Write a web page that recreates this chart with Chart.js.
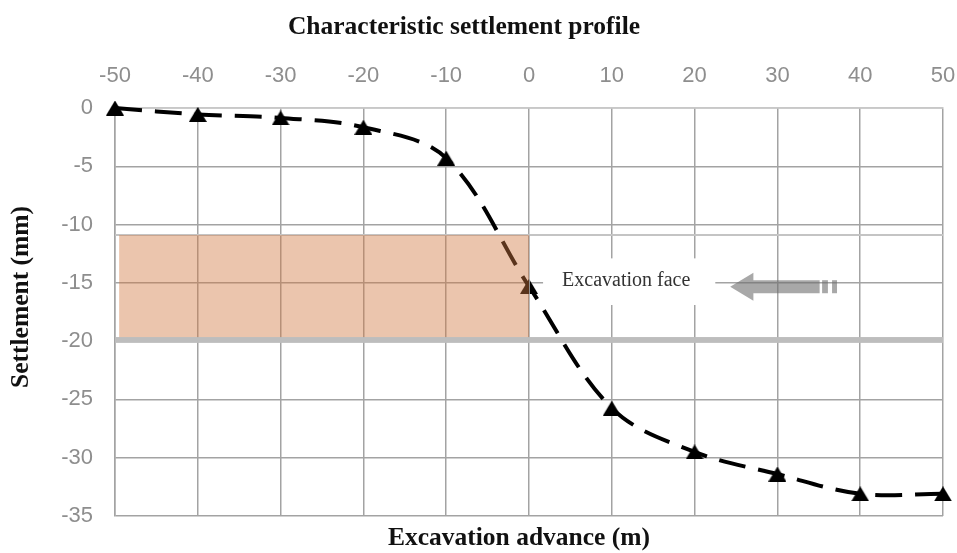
<!DOCTYPE html>
<html>
<head>
<meta charset="utf-8">
<script src="https://cdn.jsdelivr.net/npm/chart.js@4.4.1/dist/chart.umd.min.js"></script>
<style>
html,body{margin:0;padding:0;background:#fff;}
#wrap{width:957px;height:553px;position:relative;}
</style>
</head>
<body>
<div id="wrap"><canvas id="c" width="957" height="553"></canvas></div>
<script>
// ---- data ----
const advance = [-50, -40, -30, -20, -10, 0, 10, 20, 30, 40, 50];
const settlement = [0, -0.55, -0.85, -1.65, -4.3, -15.3, -25.75, -29.5, -31.4, -33.1, -33.1];
const xTicks = [-50, -40, -30, -20, -10, 0, 10, 20, 30, 40, 50];
const yTicks = [0, -5, -10, -15, -20, -25, -30, -35];
const tunnelX = [-49.5, 0];
const tunnelY = [-10.9, -19.65];
const titleText = 'Characteristic settlement profile';
const xTitle = 'Excavation advance (m)';
const yTitle = 'Settlement (mm)';
const faceText = 'Excavation face';

// ---- annotation geometry (data units) ----
const patch = {x0: 1.7, x1: 22.5, y0: -12.9, y1: -16.9};
const arrow = {tip: 24.3, headBack: 27.1, shaftEnd: 35.1, y: -15.33, headHalf: 1.2, shaftHalf: 0.56,
               bars: [[35.4, 36.1], [36.6, 37.2]]};
const facePos = {x: 4.0, y: -14.8};

function triangleImg(w, h) {
  const c = document.createElement('canvas');
  c.width = w; c.height = h;
  const g = c.getContext('2d');
  g.fillStyle = '#000';
  g.beginPath();
  g.moveTo(w / 2, 0);
  g.lineTo(w, h);
  g.lineTo(0, h);
  g.closePath();
  g.fill();
  return c;
}
const tri = triangleImg(18, 15);

const GRID = '#a3a3a3';
const TICK = '#8e8e8e';
const serifBold = 'bold 25.5px "Liberation Serif", "Times New Roman", serif';

const decor = {
  id: 'decor',
  beforeDatasetsDraw(chart) {
    const {ctx, scales: {x, y}, chartArea: a} = chart;
    ctx.save();
    ctx.strokeStyle = '#c4c4c4';
    ctx.lineWidth = 2;
    ctx.beginPath();
    ctx.moveTo(a.left, y.getPixelForValue(tunnelY[0]));
    ctx.lineTo(a.right, y.getPixelForValue(tunnelY[0]));
    ctx.stroke();
    ctx.fillStyle = '#bdbdbd';
    const b0 = y.getPixelForValue(tunnelY[1]);
    const b1 = y.getPixelForValue(-20.15);
    ctx.fillRect(a.left, b0, a.right - a.left, b1 - b0);
    ctx.fillStyle = '#fff';
    const px0 = x.getPixelForValue(patch.x0), px1 = x.getPixelForValue(patch.x1);
    const py0 = y.getPixelForValue(patch.y0), py1 = y.getPixelForValue(patch.y1);
    ctx.fillRect(px0, py0, px1 - px0, py1 - py0);
    ctx.fillStyle = '#333';
    ctx.font = '20px "Liberation Serif", "Times New Roman", serif';
    ctx.textAlign = 'left';
    ctx.textBaseline = 'middle';
    ctx.fillText(faceText, x.getPixelForValue(facePos.x), y.getPixelForValue(facePos.y));
    ctx.fillStyle = 'rgba(110,110,110,0.6)';
    const ay = y.getPixelForValue(arrow.y);
    const hh = y.getPixelForValue(arrow.y - arrow.headHalf) - ay;
    const sh = y.getPixelForValue(arrow.y - arrow.shaftHalf) - ay;
    const tip = x.getPixelForValue(arrow.tip), hb = x.getPixelForValue(arrow.headBack), se = x.getPixelForValue(arrow.shaftEnd);
    ctx.beginPath();
    ctx.moveTo(tip, ay);
    ctx.lineTo(hb, ay - hh);
    ctx.lineTo(hb, ay - sh);
    ctx.lineTo(se, ay - sh);
    ctx.lineTo(se, ay + sh);
    ctx.lineTo(hb, ay + sh);
    ctx.lineTo(hb, ay + hh);
    ctx.closePath();
    ctx.fill();
    arrow.bars.forEach(([b0v, b1v]) => {
      const bx0 = x.getPixelForValue(b0v), bx1 = x.getPixelForValue(b1v);
      ctx.fillRect(bx0, ay - sh, bx1 - bx0, 2 * sh);
    });
    ctx.restore();
  },
  afterDatasetsDraw(chart) {
    const {ctx, scales: {x, y}} = chart;
    ctx.save();
    ctx.fillStyle = 'rgba(209,120,64,0.43)';
    const x0 = x.getPixelForValue(tunnelX[0]), x1 = x.getPixelForValue(tunnelX[1]);
    const y0 = y.getPixelForValue(tunnelY[0]), y1 = y.getPixelForValue(tunnelY[1]);
    ctx.fillRect(x0, y0, x1 - x0, y1 - y0);
    ctx.strokeStyle = 'rgba(180,180,180,0.8)';
    ctx.lineWidth = 1;
    ctx.beginPath();
    ctx.moveTo(x1 + 0.5, y0);
    ctx.lineTo(x1 + 0.5, y1);
    ctx.stroke();
    ctx.restore();
  },
  afterDraw(chart) {
    const {ctx} = chart;
    ctx.save();
    ctx.fillStyle = '#111';
    ctx.font = serifBold;
    ctx.textAlign = 'center';
    ctx.textBaseline = 'middle';
    ctx.fillText(titleText, 464, 27);
    ctx.fillText(xTitle, 519, 538);
    ctx.translate(21, 297);
    ctx.rotate(-Math.PI / 2);
    ctx.fillText(yTitle, 0, 0);
    ctx.restore();
  }
};

const noPad = s => { s.paddingLeft = 0; s.paddingRight = 0; };

new Chart(document.getElementById('c'), {
  type: 'line',
  data: {
    datasets: [{
      data: advance.map((v, i) => ({x: v, y: settlement[i]})),
      borderColor: '#000',
      borderWidth: 4,
      borderDash: [27, 13],
      tension: 0.35,
      pointStyle: tri,
      pointRadius: 9,
      pointBackgroundColor: '#000',
      fill: false,
      clip: false
    }]
  },
  options: {
    responsive: false,
    animation: false,
    devicePixelRatio: 1,
    layout: {padding: {left: 0, right: 14, top: 0, bottom: 0}},
    plugins: {legend: {display: false}, title: {display: false}, tooltip: {enabled: false}},
    scales: {
      x: {
        type: 'linear', position: 'top', min: -50, max: 50,
        afterBuildTicks: s => { s.ticks = xTicks.map(v => ({value: v})); },
        afterFit: s => { s.height = 108; noPad(s); },
        ticks: {color: TICK, font: {family: '"Liberation Sans", Arial, sans-serif', size: 22}, padding: 19, maxRotation: 0},
        grid: {color: GRID, lineWidth: 1.5, drawTicks: false},
        border: {display: true, color: '#c8c8c8', width: 1.5}
      },
      x2: {
        type: 'linear', position: 'bottom', min: -50, max: 50,
        afterFit: s => { s.height = 37; noPad(s); },
        ticks: {display: false},
        grid: {display: false, drawTicks: false},
        border: {display: false}
      },
      y: {
        type: 'linear', position: 'left', min: -35, max: 0,
        afterBuildTicks: s => { s.ticks = yTicks.map(v => ({value: v})); },
        afterFit: s => { s.width = 115; s.paddingTop = 0; s.paddingBottom = 0; },
        ticks: {color: TICK, font: {family: '"Liberation Sans", Arial, sans-serif', size: 22}, padding: 22},
        grid: {color: GRID, lineWidth: 1.5, drawTicks: false},
        border: {display: true, color: GRID, width: 1.5}
      }
    }
  },
  plugins: [decor]
});
</script>
</body>
</html>
